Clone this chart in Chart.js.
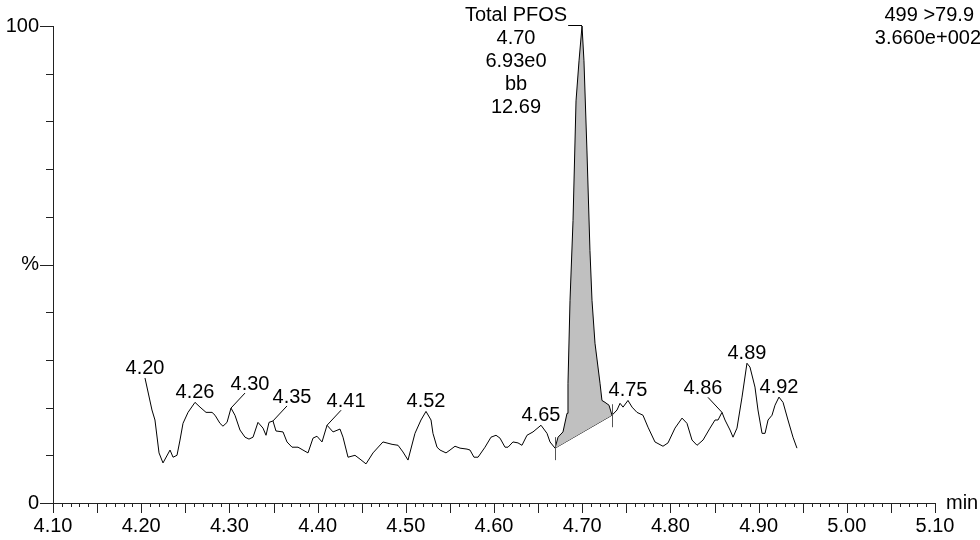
<!DOCTYPE html>
<html>
<head>
<meta charset="utf-8">
<script src="https://cdn.jsdelivr.net/npm/chart.js@4/dist/chart.umd.min.js"></script>
<style>
  body { margin: 0; background: #fff; }
  canvas { display: block; }
</style>
</head>
<body>
<canvas id="trace" width="980" height="540"></canvas>
<script>
"use strict";

// retention time (min) and relative intensity (%) of the trace
const times = [4.2043,4.2122,4.2156,4.2202,4.2247,4.2327,4.2361,4.2406,4.2440,4.2474,
  4.2531,4.2610,4.2667,4.2735,4.2803,4.2837,4.2893,4.2927,4.2973,4.3018,
  4.3063,4.3120,4.3177,4.3222,4.3268,4.3324,4.3381,4.3415,4.3449,4.3494,
  4.3528,4.3608,4.3653,4.3710,4.3778,4.3834,4.3891,4.3948,4.3993,4.4050,
  4.4107,4.4175,4.4254,4.4288,4.4345,4.4424,4.4481,4.4549,4.4628,4.4741,
  4.4844,4.4912,4.4968,4.5025,4.5104,4.5172,4.5229,4.5286,4.5308,4.5354,
  4.5388,4.5456,4.5501,4.5558,4.5615,4.5694,4.5728,4.5773,4.5819,4.5898,
  4.5966,4.6023,4.6068,4.6125,4.6159,4.6215,4.6272,4.6317,4.6374,4.6442,
  4.6533,4.6601,4.6635,4.6692,4.6726,4.6782,4.6828,4.6839,4.6862,4.6896,
  4.6930,4.6964,4.6998,4.7020,4.7054,4.7088,4.7111,4.7145,4.7202,4.7224,
  4.7259,4.7304,4.7338,4.7395,4.7429,4.7463,4.7519,4.7565,4.7621,4.7689,
  4.7746,4.7825,4.7916,4.7973,4.8052,4.8132,4.8188,4.8245,4.8302,4.8370,
  4.8449,4.8506,4.8540,4.8585,4.8619,4.8676,4.8710,4.8755,4.8812,4.8868,
  4.8902,4.8959,4.8993,4.9039,4.9073,4.9107,4.9152,4.9186,4.9231,4.9277,
  4.9333,4.9390,4.9435];
const intensity = [26.2,19.5,17.4,10.5,8.4,11.1,9.6,10.0,13.2,16.7,
  19.0,21.1,20.1,19.0,19.0,18.4,16.7,16.1,16.9,19.9,
  18.4,15.3,13.8,13.4,13.8,16.9,15.7,14.2,16.9,17.2,
  15.1,14.9,12.8,11.7,11.7,11.1,10.5,13.6,14.0,12.8,
  16.3,14.9,15.5,13.8,9.6,10.0,9.2,8.2,10.5,12.8,
  12.3,12.1,10.7,9.0,14.6,17.4,19.2,17.4,14.6,11.7,
  11.1,10.5,11.1,11.9,11.5,11.3,11.1,9.6,9.6,11.7,
  13.8,14.2,13.6,11.7,11.7,12.8,12.6,12.1,14.2,14.9,
  16.3,14.6,12.8,11.5,13.8,14.9,18.8,25.1,42.5,59.2,
  84.3,92.7,100,92.7,73.8,52.9,42.5,33.5,25.1,21.5,
  21.1,20.5,18.4,19.5,20.9,20.1,21.5,20.1,19.0,18.4,
  15.9,12.8,11.9,12.6,15.7,17.8,16.7,13.2,12.1,13.2,
  15.7,17.4,17.4,19.0,17.4,15.3,13.8,15.7,22.2,29.3,
  28.5,24.3,19.5,14.6,14.6,17.4,18.4,20.5,22.2,21.1,
  17.4,13.8,11.5];

// labelled apexes (times as in the trace)
const peakTimes = [4.2043, 4.2610, 4.3018, 4.3494, 4.4107, 4.5229, 4.6533, 4.7519, 4.8585, 4.8868, 4.9231];
// leader direction per label: 0 = label straight above, 1 = up right, -1 = up left
const peakLeader = [0, 0, 1, 1, 1, 0, 0, 0, -1, 0, 0];

// integrated peak
const peakName = 'Total PFOS';
const peakInfo = ['4.70', '6.93e0', 'bb', '12.69'];
const peakStart = 4.6692;
const peakEnd = 4.7338;
const peakApex = 4.6998;

const headerLines = ['499 >79.9', '3.660e+002'];

const xTicks = { min: 4.10, max: 5.10, major: 0.1 };
const yTicks = { min: 0, max: 100 };

const FONT = '20px "Liberation Sans", Arial, sans-serif';

const trace = times.map((t, i) => ({ x: t, y: intensity[i] }));
const areaPts = trace.filter(p => p.x >= peakStart && p.x <= peakEnd);
const valueAt = t => intensity[times.indexOf(t)];
const baseline = [{ x: peakStart, y: valueAt(peakStart) }, { x: peakEnd, y: valueAt(peakEnd) }];

const decorations = {
    id: 'decorations',
    afterDraw(chart) {
        const { ctx, scales: { x, y } } = chart;
        const axisY = y.getPixelForValue(0);
        const axisX = x.getPixelForValue(xTicks.min);
        ctx.save();
        ctx.strokeStyle = '#222';
        ctx.lineWidth = 1;

        // x ticks: every 0.01, longer every 0.05
        ctx.beginPath();
        for (let i = 0; i <= 100; i++) {
            const px = Math.round(x.getPixelForValue(xTicks.min + i * 0.01)) + 0.5;
            const len = i % 5 === 0 ? 10 : 4;
            ctx.moveTo(px, axisY);
            ctx.lineTo(px, axisY + len);
        }
        // y ticks: every 10, longer at 0 / 50 / 100
        for (let v = 0; v <= 100; v += 10) {
            const py = Math.round(y.getPixelForValue(v)) + 0.5;
            const len = v % 50 === 0 ? 13 : 7;
            ctx.moveTo(axisX, py);
            ctx.lineTo(axisX - len, py);
        }
        ctx.stroke();

        ctx.font = FONT;
        ctx.fillStyle = '#000';

        // axis unit
        ctx.textAlign = 'left';
        ctx.textBaseline = 'middle';
        ctx.fillText('min', x.getPixelForValue(xTicks.max) + 11, axisY);

        // header top right
        ctx.textAlign = 'right';
        ctx.textBaseline = 'alphabetic';
        ctx.fillText(headerLines[0], 974, 21);
        ctx.fillText(headerLines[1], 981, 44);

        // peak labels
        ctx.strokeStyle = '#000';
        ctx.textAlign = 'center';
        peakTimes.forEach((t, i) => {
            const px = x.getPixelForValue(t);
            const py = y.getPixelForValue(valueAt(t));
            const dir = peakLeader[i];
            const text = t.toFixed(2);
            if (dir === 0) {
                ctx.fillText(text, px, py - 4);
            } else {
                const base = py - 18;
                ctx.fillText(text, px + dir * 19, base);
                ctx.beginPath();
                ctx.moveTo(px, py);
                ctx.lineTo(px + dir * 14, base + 3);
                ctx.stroke();
            }
        });

        // integrated peak annotation
        const ax = x.getPixelForValue(peakApex);
        const ay = y.getPixelForValue(valueAt(peakApex));
        const cx = ax - 66;
        const lines = [peakName, ...peakInfo];
        lines.forEach((s, i) => ctx.fillText(s, cx, 21 + i * 23));
        const nameEnd = cx + ctx.measureText(peakName).width / 2;
        ctx.beginPath();
        ctx.moveTo(nameEnd + 1, ay - 0.5);
        ctx.lineTo(ax, ay - 0.5);
        ctx.stroke();

        // integration limit marks
        ctx.strokeStyle = '#555';
        ctx.beginPath();
        baseline.forEach(p => {
            const bx = Math.round(x.getPixelForValue(p.x)) + 0.5;
            const by = y.getPixelForValue(p.y);
            ctx.moveTo(bx, by - 11);
            ctx.lineTo(bx, by + 12);
        });
        ctx.stroke();
        ctx.restore();
    }
};

Chart.defaults.font.family = '"Liberation Sans", Arial, sans-serif';
Chart.defaults.font.size = 20;
Chart.defaults.color = '#000';

new Chart(document.getElementById('trace'), {
    type: 'scatter',
    data: {
        datasets: [{
            data: trace,
            showLine: true,
            borderColor: '#000',
            borderWidth: 1,
            pointRadius: 0,
            fill: false,
            clip: false
        }, {
            data: areaPts,
            showLine: true,
            borderWidth: 0,
            borderColor: 'rgba(0,0,0,0)',
            backgroundColor: '#c0c0c0',
            pointRadius: 0,
            fill: { target: 2 },
            clip: false
        }, {
            data: baseline,
            showLine: true,
            borderColor: '#000',
            borderWidth: 1,
            pointRadius: 0,
            fill: false,
            clip: false
        }]
    },
    options: {
        responsive: false,
        animation: false,
        devicePixelRatio: 1,
        layout: { padding: { top: 25, right: 45, left: 0, bottom: 0 } },
        plugins: { legend: { display: false }, tooltip: { enabled: false } },
        scales: {
            x: {
                type: 'linear',
                min: xTicks.min,
                max: xTicks.max,
                grid: { display: false, drawTicks: false },
                border: { display: true, color: '#222', width: 1 },
                ticks: {
                    stepSize: xTicks.major,
                    autoSkip: false,
                    maxRotation: 0,
                    padding: 11,
                    callback: v => Number(v).toFixed(2)
                },
                afterFit: s => { s.height = 37; }
            },
            y: {
                min: yTicks.min,
                max: yTicks.max,
                grid: { display: false, drawTicks: false },
                border: { display: true, color: '#222', width: 1 },
                ticks: {
                    stepSize: 50,
                    padding: 14,
                    callback: v => v === 50 ? '%' : String(v)
                },
                afterFit: s => { s.width = 53; }
            }
        }
    },
    plugins: [decorations]
});
</script>
</body>
</html>
